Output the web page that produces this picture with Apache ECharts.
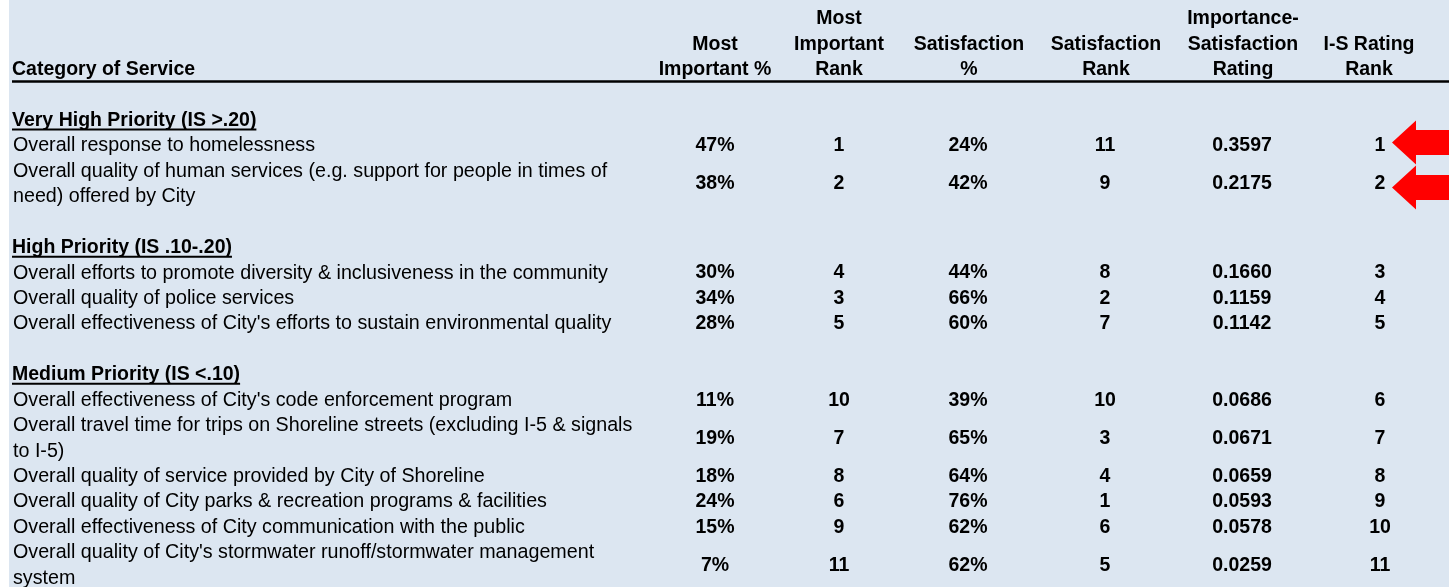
<!DOCTYPE html>
<html>
<head>
<meta charset="utf-8">
<script src="https://cdn.jsdelivr.net/npm/echarts@6/dist/echarts.min.js"></script>
<style>
html,body{margin:0;padding:0;background:#dce6f1;}
#chart{width:1449px;height:587px;}
</style>
</head>
<body>
<div id="chart"></div>
<script>
// ---------------- DATA ----------------
const columnHeaders = [
  'Category of Service',
  'Most\nImportant %',
  'Most\nImportant\nRank',
  'Satisfaction\n%',
  'Satisfaction\nRank',
  'Importance-\nSatisfaction\nRating',
  'I-S Rating\nRank'
];
const groupTitles = [
  'Very High Priority (IS >.20)',
  'High Priority (IS .10-.20)',
  'Medium Priority (IS <.10)'
];
const services = [
  'Overall response to homelessness',
  'Overall quality of human services (e.g. support for people in times of\nneed) offered by City',
  'Overall efforts to promote diversity & inclusiveness in the community',
  'Overall quality of police services',
  "Overall effectiveness of City's efforts to sustain environmental quality",
  "Overall effectiveness of City's code enforcement program",
  'Overall travel time for trips on Shoreline streets (excluding I-5 & signals\nto I-5)',
  'Overall quality of service provided by City of Shoreline',
  'Overall quality of City parks & recreation programs & facilities',
  'Overall effectiveness of City communication with the public',
  "Overall quality of City's stormwater runoff/stormwater management\nsystem"
];
const serviceGroup       = [0, 0, 1, 1, 1, 2, 2, 2, 2, 2, 2];
const mostImportantPct   = [47, 38, 30, 34, 28, 11, 19, 18, 24, 15, 7];
const mostImportantRank  = [1, 2, 4, 3, 5, 10, 7, 8, 6, 9, 11];
const satisfactionPct    = [24, 42, 44, 66, 60, 39, 65, 64, 76, 62, 62];
const satisfactionRank   = [11, 9, 8, 2, 7, 10, 3, 4, 1, 6, 5];
const isRating           = [0.3597, 0.2175, 0.1660, 0.1159, 0.1142, 0.0686, 0.0671, 0.0659, 0.0593, 0.0578, 0.0259];
const isRatingRank       = [1, 2, 3, 4, 5, 6, 7, 8, 9, 10, 11];
const flaggedRanks       = [1, 2];

// ---------------- LAYOUT / STYLE ----------------
const FONT_FAMILY = '"Liberation Sans", Arial, Helvetica, sans-serif';
const FONT_REG = '19.7px ' + FONT_FAMILY;
const FONT_BOLD = 'bold 19.5px ' + FONT_FAMILY;
const LINE_PX = 25.43;
const TOP_PX = 18.8;
const VALUE_X  = [13, 715, 839, 968, 1105, 1242, 1380];
const HEADER_X = [12, 715, 839, 969, 1106, 1243, 1369];
const HEADER_LAST_LINE = 2;
const RULE_LINE = 2.47;
const ARROW_NUDGE = [-3.5, 3.5];
const BG = '#dce6f1';

// ---------------- BUILD CELLS ----------------
const measureCtx = document.createElement('canvas').getContext('2d');
function textWidth(t, font) { measureCtx.font = font; return measureCtx.measureText(t).width; }

const cells = [];
columnHeaders.forEach((h, c) => {
  const parts = h.split('\n');
  parts.forEach((p, i) => {
    cells.push({ x: HEADER_X[c], line: HEADER_LAST_LINE - (parts.length - 1) + i, text: p,
      font: FONT_BOLD, align: c === 0 ? 'left' : 'center', underline: false });
  });
});

const fmtPct = v => v + '%';
const fmtRating = v => v.toFixed(4);
const rowLines = [];
let line = 4;
groupTitles.forEach((g, gi) => {
  cells.push({ x: HEADER_X[0], line: line, text: g, font: FONT_BOLD, align: 'left', underline: true });
  line += 1;
  services.forEach((s, i) => {
    if (serviceGroup[i] !== gi) return;
    const n = s.split('\n').length;
    const center = line + (n - 1) / 2;
    rowLines[i] = center;
    cells.push({ x: VALUE_X[0], line: center, text: s, font: FONT_REG, align: 'left' });
    const vals = [fmtPct(mostImportantPct[i]), String(mostImportantRank[i]), fmtPct(satisfactionPct[i]),
                  String(satisfactionRank[i]), fmtRating(isRating[i]), String(isRatingRank[i])];
    vals.forEach((v, k) => {
      cells.push({ x: VALUE_X[k + 1], line: center, text: v, font: FONT_BOLD, align: 'center' });
    });
    line += n;
  });
  line += 1;
});

const arrowItems = [];
flaggedRanks.forEach((r, k) => {
  const i = isRatingRank.indexOf(r);
  arrowItems.push([VALUE_X[6], rowLines[i], ARROW_NUDGE[k]]);
});

// ---------------- CHART ----------------
const chart = echarts.init(document.getElementById('chart'), null, { renderer: 'canvas' });

function renderCell(params, api) {
  const c = cells[params.dataIndex];
  const p = api.coord([api.value(0), api.value(1)]);
  const children = [{
    type: 'text', x: p[0], y: p[1],
    style: { text: c.text, font: c.font, fill: '#000', align: c.align, verticalAlign: 'middle',
             textAlign: c.align, textVerticalAlign: 'middle', lineHeight: LINE_PX }
  }];
  if (c.underline) {
    const w = textWidth(c.text, c.font);
    children.push({ type: 'rect', shape: { x: p[0], y: p[1] + 8, width: w, height: 2 }, style: { fill: '#000' } });
  }
  return { type: 'group', children: children };
}

function renderRule(params, api) {
  const a = api.coord([api.value(0), api.value(2)]);
  const b = api.coord([api.value(1), api.value(2)]);
  return { type: 'line', shape: { x1: a[0], y1: a[1], x2: b[0], y2: b[1] },
           style: { stroke: '#000', lineWidth: 2.5 } };
}

function renderArrow(params, api) {
  const p = api.coord([api.value(0), api.value(1)]);
  const cy = p[1] + api.value(2);
  const tip = p[0] + 12;
  const back = tip + 24;
  const right = api.getWidth() + 2;
  const hh = 22, sh = 12.5;
  return { type: 'polygon',
    shape: { points: [[tip, cy], [back, cy - hh], [back, cy - sh], [right, cy - sh],
                      [right, cy + sh], [back, cy + sh], [back, cy + hh]] },
    style: { fill: '#ff0000' } };
}

const option = {
  backgroundColor: BG,
  animation: false,
  grid: { left: 0, right: 0, top: TOP_PX, bottom: 587 - TOP_PX - 22 * LINE_PX },
  xAxis: { type: 'value', min: 0, max: 1449, show: false },
  yAxis: { type: 'value', min: 0, max: 22, inverse: true, show: false },
  graphic: [{ type: 'rect', left: 0, top: 0, shape: { width: 9, height: 587 }, style: { fill: '#ffffff' }, z: 100 }],
  series: [
    { type: 'custom', name: 'rule', clip: false, renderItem: renderRule,
      data: [[HEADER_X[0], 1449, RULE_LINE]] },
    { type: 'custom', name: 'cells', clip: false, renderItem: renderCell,
      data: cells.map(c => [c.x, c.line]) },
    { type: 'custom', name: 'arrows', clip: false, renderItem: renderArrow,
      data: arrowItems }
  ]
};
chart.setOption(option);
</script>
</body>
</html>
